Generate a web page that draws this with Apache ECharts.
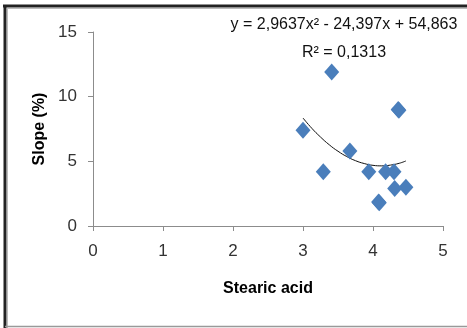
<!DOCTYPE html>
<html><head><meta charset="utf-8">
<script src="https://cdn.jsdelivr.net/npm/echarts@6/dist/echarts.min.js"></script>
<style>html,body{margin:0;padding:0;background:#fff}#c{width:467px;height:328px}</style>
</head><body><div id="c"></div>
<script>
const stearic = [3.0, 3.29, 3.41, 3.67, 3.94, 4.08, 4.09, 4.18, 4.30, 4.31, 4.36, 4.37, 4.47];
const slope   = [7.4, 4.2, 11.9, 5.8, 4.2, 1.85, 1.8, 4.2, 4.2, 2.9, 9.0, 8.95, 3.0];
const trendX  = [3.0, 3.125, 3.25, 3.375, 3.5, 3.625, 3.75, 3.875, 4.0, 4.125, 4.25, 4.375, 4.47];
const trendY  = [8.35, 7.56, 6.88, 6.28, 5.78, 5.37, 5.05, 4.83, 4.69, 4.65, 4.71, 4.85, 5.03];
const xTicks = [0, 1, 2, 3, 4, 5];
const yTicks = [0, 5, 10, 15];
const eqText = 'y = 2,9637x² - 24,397x + 54,863';
const r2Text = 'R² = 0,1313';

const font = '"Liberation Sans", sans-serif';
const chart = echarts.init(document.getElementById('c'), null, {renderer: 'canvas'});
chart.setOption({
  animation: false,
  backgroundColor: '#fff',
  grid: {left: 93, right: 24, top: 32, bottom: 102},
  xAxis: {
    type: 'value', min: xTicks[0], max: xTicks[xTicks.length-1], interval: 1,
    name: 'Stearic acid', nameLocation: 'middle', nameGap: 55,
    nameTextStyle: {fontFamily: font, fontSize: 16, fontWeight: 'bold', color: '#000'},
    axisLine: {lineStyle: {color: '#8c8c8c', width: 1}},
    axisTick: {show: true, length: 5, lineStyle: {color: '#8c8c8c'}},
    axisLabel: {fontFamily: font, fontSize: 17, color: '#333', margin: 17},
    splitLine: {show: false}
  },
  yAxis: {
    type: 'value', min: yTicks[0], max: yTicks[yTicks.length-1], interval: 5,
    name: 'Slope (%)', nameLocation: 'middle', nameGap: 42, nameRotate: 90,
    nameTextStyle: {fontFamily: font, fontSize: 16, fontWeight: 'bold', color: '#000'},
    axisLine: {show: true, lineStyle: {color: '#8c8c8c', width: 1}},
    axisTick: {show: true, length: 5, lineStyle: {color: '#8c8c8c'}},
    axisLabel: {fontFamily: font, fontSize: 17, color: '#333', margin: 16},
    splitLine: {show: false}
  },
  series: [
    {
      type: 'line', data: trendX.map((x, i) => [x, trendY[i]]),
      smooth: true, showSymbol: false, symbol: 'none',
      lineStyle: {color: '#111', width: 1}, z: 3
    },
    {
      type: 'scatter', data: stearic.map((x, i) => [x, slope[i]]),
      symbol: 'diamond', symbolSize: [15, 17],
      itemStyle: {color: '#4a7ebb', opacity: 1}, z: 4
    }
  ],
  graphic: [
    {type: 'text', x: 344, y: 25, style: {text: eqText, font: '16px ' + font, fill: '#111', align: 'center', verticalAlign: 'middle'}},
    {type: 'text', x: 344, y: 53, style: {text: r2Text, font: '16px ' + font, fill: '#111', align: 'center', verticalAlign: 'middle'}},
    {type: 'line', shape: {x1: 3, y1: 6, x2: 467, y2: 6}, style: {stroke: '#222', lineWidth: 3}},
    {type: 'line', shape: {x1: 5, y1: 5, x2: 5, y2: 328}, style: {stroke: '#222', lineWidth: 3}},
    {type: 'line', shape: {x1: 7, y1: 8.5, x2: 467, y2: 8.5}, style: {stroke: '#bbb', lineWidth: 1}},
    {type: 'line', shape: {x1: 7.5, y1: 8, x2: 7.5, y2: 328}, style: {stroke: '#bbb', lineWidth: 1}},
    {type: 'line', shape: {x1: 5, y1: 326.5, x2: 467, y2: 326.5}, style: {stroke: '#999', lineWidth: 1.5}}
  ]
});
</script></body></html>
